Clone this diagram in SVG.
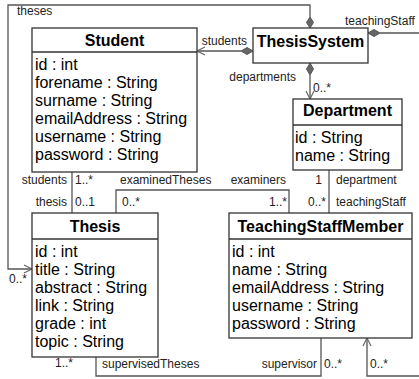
<svg xmlns="http://www.w3.org/2000/svg" width="419" height="379" viewBox="0 0 419 379">
<defs>
<style>
.box{fill:#fff;stroke:#333;stroke-width:1.3}
.sep{stroke:#333;stroke-width:1.3}
.hd{font-family:"Liberation Sans",Arial,sans-serif;font-size:16px;font-weight:bold;fill:#000;text-anchor:middle}
.at{font-family:"Liberation Sans",Arial,sans-serif;font-size:16px;fill:#000}
.lb{font-family:"Liberation Sans",Arial,sans-serif;font-size:12px;fill:#222}
.e{text-anchor:end}
.ln{fill:none;stroke:#555;stroke-width:1.3}
.dm{fill:#666;stroke:#555;stroke-width:1}
.ar{fill:none;stroke:#666;stroke-width:1.2}
</style>
</defs>
<rect width="419" height="379" fill="#fff"/>
<g id="connectors">
<!-- theses -->
<polyline class="ln" points="310,17 310,5 8,5 8,269 32,269"/>
<polygon class="dm" points="310,28 313.5,22.5 310,17 306.5,22.5"/>
<polyline class="ar" points="24,265 32,269 24,273"/>
<!-- students -->
<line class="ln" x1="197" y1="51" x2="241" y2="51"/>
<polygon class="dm" points="253,51 247,47.5 241,51 247,54.5"/>
<polyline class="ar" points="205,47 197,51 205,55"/>
<!-- teachingStaff (system) -->
<polyline class="ln" points="380,33 425,33"/>
<polygon class="dm" points="368,33 374,29.5 380,33 374,36.5"/>
<polyline class="ln" points="425,376 367,376 367,338"/>
<polyline class="ar" points="363,346 367,338 371,346"/>
<!-- departments -->
<line class="ln" x1="310" y1="75" x2="310" y2="99"/>
<polygon class="dm" points="310,63 313.5,69 310,75 306.5,69"/>
<polyline class="ar" points="306,91 310,99 314,91"/>
<!-- student-thesis -->
<line class="ln" x1="72" y1="172" x2="72" y2="213"/>
<!-- examined -->
<polyline class="ln" points="116,213 116,190 289,190 289,213"/>
<!-- department -->
<line class="ln" x1="329" y1="170" x2="329" y2="213"/>
<!-- supervised -->
<polyline class="ln" points="96,357 96,376 321,376 321,338"/>
</g>
<g id="labels">
<text class="lb" x="17" y="15">theses</text>
<text class="lb" x="9" y="283">0..*</text>
<text class="lb e" x="247" y="45">students</text>
<text class="lb" x="345" y="25">teachingStaff</text>
<text class="lb" x="370" y="368">0..*</text>
<text class="lb e" x="296" y="81">departments</text>
<text class="lb" x="313" y="92">0..*</text>
<text class="lb e" x="67" y="184">students</text>
<text class="lb" x="75" y="184">1..*</text>
<text class="lb e" x="67" y="206">thesis</text>
<text class="lb" x="75" y="206">0..1</text>
<text class="lb" x="120" y="184">examinedTheses</text>
<text class="lb" x="122" y="206">0..*</text>
<text class="lb e" x="286" y="184">examiners</text>
<text class="lb e" x="287" y="206">1..*</text>
<text class="lb e" x="322" y="184">1</text>
<text class="lb" x="336" y="184">department</text>
<text class="lb e" x="326" y="206">0..*</text>
<text class="lb" x="336" y="206">teachingStaff</text>
<text class="lb" x="55" y="367">1..*</text>
<text class="lb" x="102" y="368">supervisedTheses</text>
<text class="lb e" x="317" y="368">supervisor</text>
<text class="lb" x="324" y="368">0..*</text>
</g>
<g id="Student">
<rect class="box" x="32" y="28" width="165" height="144"/>
<line class="sep" x1="32" y1="52" x2="197" y2="52"/>
<text class="hd" x="114.5" y="46">Student</text>
<text class="at" x="35" y="70">id : int</text>
<text class="at" x="35" y="88">forename : String</text>
<text class="at" x="35" y="106">surname : String</text>
<text class="at" x="35" y="124">emailAddress : String</text>
<text class="at" x="35" y="142">username : String</text>
<text class="at" x="35" y="160">password : String</text>
</g>
<g id="ThesisSystem">
<rect class="box" x="253" y="28" width="115" height="35"/>
<text class="hd" x="310.5" y="47">ThesisSystem</text>
</g>
<g id="Department">
<rect class="box" x="293" y="99" width="109" height="71"/>
<line class="sep" x1="293" y1="125" x2="402" y2="125"/>
<text class="hd" x="347.5" y="116">Department</text>
<text class="at" x="295" y="143">id : String</text>
<text class="at" x="295" y="161">name : String</text>
</g>
<g id="Thesis">
<rect class="box" x="32" y="213" width="126" height="144"/>
<line class="sep" x1="32" y1="239" x2="158" y2="239"/>
<text class="hd" x="95" y="232">Thesis</text>
<text class="at" x="35" y="257">id : int</text>
<text class="at" x="35" y="275">title : String</text>
<text class="at" x="35" y="293">abstract : String</text>
<text class="at" x="35" y="311">link : String</text>
<text class="at" x="35" y="329">grade : int</text>
<text class="at" x="35" y="347">topic : String</text>
</g>
<g id="TeachingStaffMember">
<rect class="box" x="229" y="213" width="183" height="125"/>
<line class="sep" x1="229" y1="239" x2="412" y2="239"/>
<text class="hd" x="320.5" y="232">TeachingStaffMember</text>
<text class="at" x="232" y="257">id : int</text>
<text class="at" x="232" y="275">name : String</text>
<text class="at" x="232" y="293">emailAddress : String</text>
<text class="at" x="232" y="311">username : String</text>
<text class="at" x="232" y="329">password : String</text>
</g>
</svg>
